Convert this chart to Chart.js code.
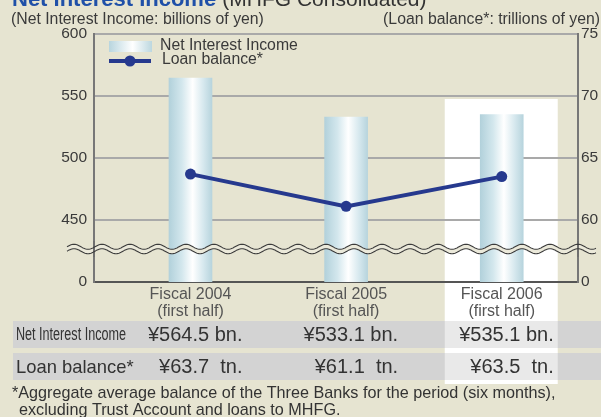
<!DOCTYPE html>
<html>
<head>
<meta charset="utf-8">
<script src="https://cdn.jsdelivr.net/npm/chart.js@4.4.1/dist/chart.umd.min.js"></script>
<style>
  html, body { margin: 0; padding: 0; background: #e6e4d1; }
  #wrap { width: 601px; height: 417px; }
</style>
</head>
<body>
<div id="wrap"><canvas id="chart" width="601" height="417"></canvas></div>
<script>
// data
const categories = [['Fiscal 2004', '(first half)'], ['Fiscal 2005', '(first half)'], ['Fiscal 2006', '(first half)']];
const netInterestIncome = [564.5, 533.1, 535.1];   // billions of yen
const loanBalance = [63.7, 61.1, 63.5];            // trillions of yen
// the axes are broken: the lowest tick stands for "0"
const leftTicks = [400, 450, 500, 550, 600];
const leftTickLabels = ['0', '450', '500', '550', '600'];
const rightTicks = [55, 60, 65, 70, 75];
const rightTickLabels = ['0', '60', '65', '70', '75'];
const highlighted = 2; // Fiscal 2006 column

const BG = '#e6e4d1';
const NAVY = '#26398e';
const FONT = '"Liberation Sans", Arial, Helvetica, sans-serif';

function barGradient(ctx) {
    const chart = ctx.chart;
    const xs = chart.scales.x;
    if (!xs || ctx.dataIndex === undefined) return '#cfe3ea';
    const cx = xs.getPixelForValue(ctx.dataIndex + 1);
    if (!isFinite(cx)) return '#cfe3ea';
    const g = chart.ctx.createLinearGradient(cx - 21.5, 0, cx + 21.5, 0);
    g.addColorStop(0, '#b2d1db');
    g.addColorStop(0.3, '#d3e7ed');
    g.addColorStop(0.55, '#ffffff');
    g.addColorStop(0.8, '#d6e8ee');
    g.addColorStop(1, '#b7d4dd');
    return g;
}

function wavePath(c, x0, x1, yc) {
    c.beginPath();
    for (let x = x0; x <= x1; x += 1) {
        const y = yc + 2.5 * Math.sin((x - x0) / 28 * Math.PI * 2 + Math.PI);
        if (x === x0) c.moveTo(x, y); else c.lineTo(x, y);
    }
}

const decor = {
    id: 'decor',
    beforeDraw(chart) {
        const c = chart.ctx;
        const xs = chart.scales.x;
        c.save();
        c.fillStyle = BG;
        c.fillRect(0, 0, chart.width, chart.height);
        // white box behind the latest period
        const hx = xs.getPixelForValue(highlighted + 1);
        c.fillStyle = '#ffffff';
        c.fillRect(hx - 57, 99, 113, 285);
        c.restore();
    },
    afterDatasetsDraw(chart) {
        const c = chart.ctx;
        const a = chart.chartArea;
        const yc = 249;
        c.save();
        // axis break band
        c.beginPath();
        for (let x = 67; x <= 596; x++) {
            const y = yc - 2.2 + 2.5 * Math.sin((x - 67) / 28 * Math.PI * 2 + Math.PI);
            if (x === 67) c.moveTo(x, y); else c.lineTo(x, y);
        }
        for (let x = 596; x >= 67; x--) {
            const y = yc + 2.2 + 2.5 * Math.sin((x - 67) / 28 * Math.PI * 2 + Math.PI);
            c.lineTo(x, y);
        }
        c.closePath();
        c.fillStyle = '#ebe9da';
        c.fill();
        // axis lines pass through the break
        c.strokeStyle = '#6f6f6f';
        c.lineWidth = 2;
        c.beginPath();
        c.moveTo(a.left, yc - 8); c.lineTo(a.left, yc + 8);
        c.moveTo(a.right, yc - 8); c.lineTo(a.right, yc + 8);
        c.stroke();
        c.strokeStyle = '#3c3c3c';
        c.lineWidth = 1.1;
        wavePath(c, 67, 596, yc - 2.2); c.stroke();
        wavePath(c, 67, 596, yc + 2.2); c.stroke();
        c.restore();
    },
    afterDraw(chart) {
        const c = chart.ctx;
        const xs = chart.scales.x;
        const ds = chart.data.datasets;
        c.save();
        c.textBaseline = 'alphabetic';

        // title (cut off at the top edge)
        c.font = 'bold 22px ' + FONT;
        c.fillStyle = '#1f50a8';
        c.textAlign = 'left';
        c.fillText('Net Interest Income', 12, 6);
        const tw = c.measureText('Net Interest Income ').width;
        c.font = '21px ' + FONT;
        c.fillStyle = '#333';
        c.fillText('(MHFG Consolidated)', 12 + tw, 6);

        // axis unit labels
        c.font = '15.8px ' + FONT;
        c.fillStyle = '#3a3a3a';
        c.textBaseline = 'middle';
        c.fillText('(Net Interest Income: billions of yen)', 11, 20);
        c.textAlign = 'right';
        c.fillText('(Loan balance*: trillions of yen)', 600, 20);

        // legend
        const lg = c.createLinearGradient(109, 0, 152, 0);
        lg.addColorStop(0, '#b8d5de');
        lg.addColorStop(0.55, '#ffffff');
        lg.addColorStop(1, '#bcd7df');
        c.fillStyle = lg;
        c.fillRect(109, 41, 43, 11);
        c.strokeStyle = NAVY;
        c.lineWidth = 4;
        c.beginPath(); c.moveTo(109, 61); c.lineTo(151, 61); c.stroke();
        c.fillStyle = NAVY;
        c.beginPath(); c.arc(130, 61, 5.5, 0, Math.PI * 2); c.fill();
        c.font = '15.8px ' + FONT;
        c.fillStyle = '#3a3a3a';
        c.textAlign = 'left';
        c.fillText(ds[0].label, 160, 46);
        c.fillText(ds[1].label, 162, 60);

        // table rows
        const hx = xs.getPixelForValue(highlighted + 1);
        const rows = [
            { y: 321, h: 27, label: 'Net Interest Income', vals: netInterestIncome.map(v => '¥' + v.toFixed(1) + ' bn.') },
            { y: 353, h: 27, label: 'Loan balance*', vals: loanBalance.map(v => '¥' + v.toFixed(1) + '  tn.') }
        ];
        rows.forEach((r, ri) => {
            c.fillStyle = '#d3d3d3';
            c.fillRect(13, r.y, 588, r.h);
            c.fillStyle = '#e9e9e9';
            c.fillRect(hx - 57, r.y, 113, r.h);
            c.fillStyle = '#333';
            c.textBaseline = 'middle';
            c.textAlign = 'left';
            const cy = r.y + r.h / 2 + 1;
            if (ri === 0) {
                c.save();
                c.font = '18px ' + FONT;
                c.translate(16, cy);
                c.scale(0.70, 1);
                c.fillText(r.label, 0, 0);
                c.restore();
            } else {
                c.font = '18.4px ' + FONT;
                c.fillText(r.label, 16, cy);
            }
            c.font = '20px ' + FONT;
            c.textAlign = 'right';
            r.vals.forEach((t, i) => {
                c.fillText(t, xs.getPixelForValue(i + 1) + 52, cy);
            });
        });

        // footnote
        c.font = '16.2px ' + FONT;
        c.fillStyle = '#333';
        c.textAlign = 'left';
        c.textBaseline = 'middle';
        c.fillText('*Aggregate average balance of the Three Banks for the period (six months),', 12, 394);
        c.fillText('excluding Trust Account and loans to MHFG.', 19, 411);
        c.restore();
    }
};

new Chart(document.getElementById('chart'), {
    data: {
        datasets: [
            {
                type: 'bar',
                label: 'Net Interest Income',
                data: netInterestIncome.map((v, i) => ({ x: i + 1, y: v })),
                yAxisID: 'y',
                barThickness: 43,
                backgroundColor: barGradient,
                borderWidth: 0,
                order: 2
            },
            {
                type: 'line',
                label: 'Loan balance*',
                data: loanBalance.map((v, i) => ({ x: i + 1, y: v })),
                yAxisID: 'y2',
                borderColor: NAVY,
                backgroundColor: NAVY,
                borderWidth: 4,
                pointRadius: 5.5,
                pointBackgroundColor: NAVY,
                pointBorderWidth: 0,
                tension: 0,
                order: 1
            }
        ]
    },
    options: {
        responsive: false,
        animation: false,
        devicePixelRatio: 1,
        layout: { padding: { top: 34, left: 0, right: 0, bottom: 0 } },
        plugins: { legend: { display: false }, tooltip: { enabled: false } },
        scales: {
            x: {
                type: 'linear',
                position: 'bottom',
                offset: false,
                min: 0.38,
                max: 3.49,
                afterFit: s => { s.height = 135; },
                afterBuildTicks: s => { s.ticks = categories.map((c, i) => ({ value: i + 1 })); },
                grid: { display: false },
                border: { display: true, color: '#555', width: 2 },
                ticks: {
                    autoSkip: false,
                    maxRotation: 0,
                    padding: -4,
                    color: '#555',
                    font: { family: FONT, size: 16, lineHeight: 1.08 },
                    callback: v => categories[v - 1]
                }
            },
            y: {
                position: 'left',
                min: 400,
                max: 600,
                afterFit: s => { s.width = 94; },
                afterBuildTicks: s => { s.ticks = leftTicks.map(v => ({ value: v })); },
                grid: { color: '#a9a9a9', lineWidth: 2, drawTicks: false },
                border: { display: true, color: '#777', width: 2 },
                ticks: {
                    padding: 7,
                    color: '#3a3a3a',
                    font: { family: FONT, size: 15.5 },
                    callback: v => leftTickLabels[leftTicks.indexOf(v)]
                }
            },
            y2: {
                position: 'right',
                min: 55,
                max: 75,
                afterFit: s => { s.width = 23; },
                afterBuildTicks: s => { s.ticks = rightTicks.map(v => ({ value: v })); },
                grid: { display: false, drawTicks: false },
                border: { display: true, color: '#777', width: 2 },
                ticks: {
                    padding: 3,
                    color: '#3a3a3a',
                    font: { family: FONT, size: 15.5 },
                    callback: v => rightTickLabels[rightTicks.indexOf(v)]
                }
            }
        }
    },
    plugins: [decor]
});
</script>
</body>
</html>
